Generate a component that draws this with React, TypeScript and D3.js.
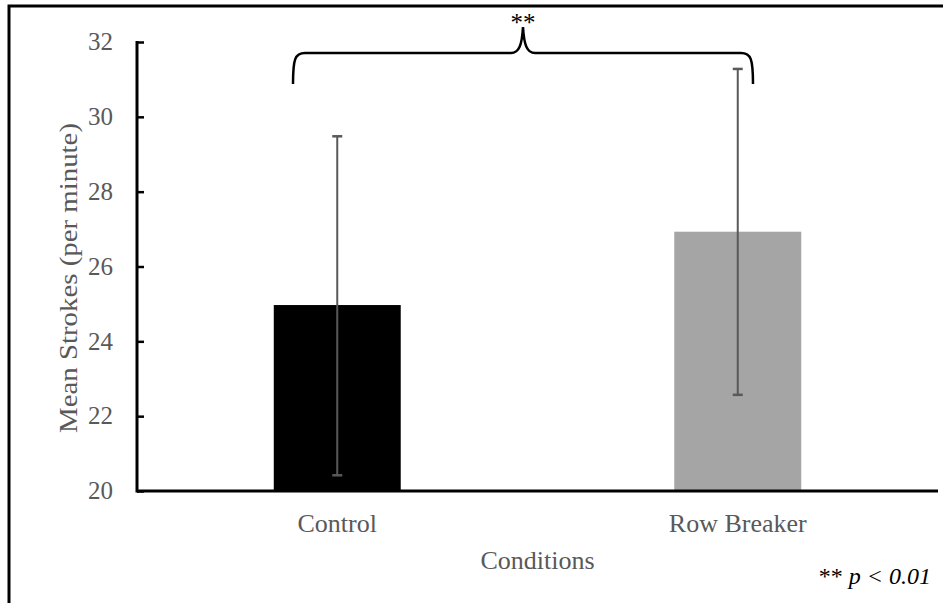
import React, { useEffect, useRef } from 'react'
import * as d3 from 'd3'

// data
const conditions = ['Control', 'Row Breaker']
const means = [24.97, 26.93]
const errLow = [20.42, 22.57]
const errHigh = [29.48, 31.28]
const barColors = ['#000000', '#a5a5a5']
const yTicks = [20, 22, 24, 26, 28, 30, 32]

const W = 943
const H = 603

export default function App() {
  const ref = useRef<SVGSVGElement>(null)

  useEffect(() => {
    const svg = d3.select(ref.current)
    svg.selectAll('*').remove()

    const left = 137, right = 938, top = 42, bottom = 491
    const x = d3.scaleBand<string>().domain(conditions).range([left, right]).paddingInner(0.683).paddingOuter(0.3415)
    const y = d3.scaleLinear().domain([20, 32]).range([bottom, top])
    const font = '"Liberation Serif", "Times New Roman", "DejaVu Serif", serif'
    const grey = '#595959'

    // outer frame (only left and top visible)
    svg.append('path')
      .attr('d', `M9,${H} L9,6 L${W},6`)
      .attr('fill', 'none').attr('stroke', '#000').attr('stroke-width', 3)

    // bars
    svg.selectAll('.bar').data(conditions).enter().append('rect')
      .attr('x', d => x(d)!)
      .attr('width', x.bandwidth())
      .attr('y', (d, i) => y(means[i]))
      .attr('height', (d, i) => y(20) - y(means[i]))
      .attr('fill', (d, i) => barColors[i])

    // error bars
    const eb = svg.selectAll('.eb').data(conditions).enter().append('g')
      .attr('transform', d => `translate(${x(d)! + x.bandwidth() / 2},0)`)
    eb.append('line')
      .attr('y1', (d, i) => y(errLow[i])).attr('y2', (d, i) => y(errHigh[i]))
      .attr('stroke', grey).attr('stroke-width', 2)
    eb.append('line')
      .attr('x1', -5).attr('x2', 5)
      .attr('y1', (d, i) => y(errLow[i])).attr('y2', (d, i) => y(errLow[i]))
      .attr('stroke', grey).attr('stroke-width', 2.5)
    eb.append('line')
      .attr('x1', -5).attr('x2', 5)
      .attr('y1', (d, i) => y(errHigh[i])).attr('y2', (d, i) => y(errHigh[i]))
      .attr('stroke', grey).attr('stroke-width', 2.5)

    // y axis (ticks point inward)
    const yAxis = svg.append('g').attr('transform', `translate(${left},0)`)
      .call(d3.axisRight(y).tickValues(yTicks).tickSize(7).tickSizeOuter(0).tickFormat(d3.format('d')))
    yAxis.select('.domain').remove()
    yAxis.selectAll('.tick line').attr('stroke', '#000').attr('stroke-width', 2.5)
    yAxis.selectAll('.tick text').remove()
    svg.selectAll('.ylab').data(yTicks).enter().append('text')
      .attr('x', 113).attr('y', d => y(d)).attr('dy', '0.33em')
      .attr('text-anchor', 'end')
      .style('font-family', font).style('font-size', '25px').attr('fill', grey)
      .text(d => d)
    svg.append('line').attr('x1', left).attr('x2', left).attr('y1', top - 1).attr('y2', bottom + 1.5)
      .attr('stroke', '#000').attr('stroke-width', 3)

    // x axis
    svg.append('line').attr('x1', left).attr('x2', right).attr('y1', bottom).attr('y2', bottom)
      .attr('stroke', '#000').attr('stroke-width', 3)
    svg.selectAll('.xlab').data(conditions).enter().append('text')
      .attr('x', d => x(d)! + x.bandwidth() / 2).attr('y', 532)
      .attr('text-anchor', 'middle')
      .style('font-family', font).style('font-size', '26px').attr('fill', grey)
      .text(d => d)

    // axis titles
    svg.append('text')
      .attr('x', (left + right) / 2).attr('y', 569)
      .attr('text-anchor', 'middle')
      .style('font-family', font).style('font-size', '26px').attr('fill', grey)
      .text('Conditions')
    svg.append('text')
      .attr('transform', `translate(77,278) rotate(-90)`)
      .attr('text-anchor', 'middle')
      .attr('textLength', 310).attr('lengthAdjust', 'spacingAndGlyphs')
      .style('font-family', font).style('font-size', '26px').attr('fill', grey)
      .text('Mean Strokes (per minute)')

    // significance bracket
    const bl = 293, br = 753, bm = 523, by = 53, bend = 84, bpeak = 27
    svg.append('path')
      .attr('d', `M${bl},${bend} C${bl},${by + 6} ${bl + 2},${by} ${bl + 12},${by} L${bm - 12},${by} C${bm - 4},${by} ${bm - 1},${by - 8} ${bm},${bpeak} C${bm + 1},${by - 8} ${bm + 4},${by} ${bm + 12},${by} L${br - 12},${by} C${br - 2},${by} ${br},${by + 6} ${br},${bend}`)
      .attr('fill', 'none').attr('stroke', '#000').attr('stroke-width', 2.5)
    svg.append('text')
      .attr('x', bm).attr('y', 31)
      .attr('text-anchor', 'middle')
      .style('font-family', font).style('font-size', '25px').attr('fill', '#000')
      .text('**')

    // footnote
    const note = svg.append('text')
      .attr('x', 931).attr('y', 584)
      .attr('text-anchor', 'end')
      .style('font-family', font).style('font-size', '24px').attr('fill', '#000')
    note.append('tspan').text('** ')
    note.append('tspan').style('font-style', 'italic').text('p < 0.01')
  }, [])

  return (
    <svg ref={ref} width={W} height={H}
      style={{ position: 'absolute', left: 0, top: 0, background: '#fff' }} />
  )
}
